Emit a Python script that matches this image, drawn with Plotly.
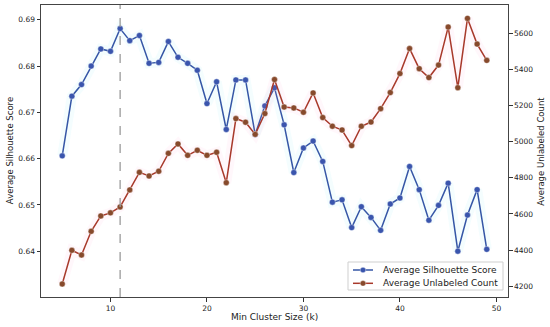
import plotly.graph_objects as go

k_values = list(range(5, 50))
silhouette = [0.6606, 0.6735, 0.6760, 0.6800, 0.6837, 0.6832, 0.6881, 0.6855, 0.6866, 0.6806,
              0.6808, 0.6853, 0.6819, 0.6806, 0.6791, 0.6719, 0.6766, 0.6663, 0.6770, 0.6770,
              0.6652, 0.6714, 0.6753, 0.6673, 0.6570, 0.6623, 0.6638, 0.6594, 0.6506, 0.6511,
              0.6451, 0.6496, 0.6473, 0.6445, 0.6502, 0.6515, 0.6583, 0.6533, 0.6467, 0.6499,
              0.6547, 0.6400, 0.6478, 0.6533, 0.6404]
unlabeled = [4213, 4399, 4373, 4504, 4589, 4606, 4639, 4733, 4830, 4810,
             4836, 4935, 4987, 4924, 4952, 4924, 4941, 4773, 5127, 5107,
             5040, 5155, 5343, 5191, 5186, 5162, 5269, 5133, 5085, 5064,
             4978, 5085, 5108, 5182, 5271, 5376, 5514, 5403, 5354, 5423,
             5633, 5298, 5681, 5539, 5449]
best_k = 11
series_names = ["Average Silhouette Score", "Average Unlabeled Count"]

x_ticks = [10, 20, 30, 40, 50]
y1_ticks = [0.64, 0.65, 0.66, 0.67, 0.68, 0.69]
y2_ticks = [4200, 4400, 4600, 4800, 5000, 5200, 5400, 5600]

BLUE = "#3556a6"
BLUE_M = "#3a55ad"
RED = "#a8392b"
BROWN = "#874a2c"
FONT = "DejaVu Sans"

fig = go.Figure()

# faint glow beneath the lines
fig.add_trace(go.Scatter(x=k_values, y=silhouette, mode="lines", yaxis="y",
                         line=dict(color="rgba(120,235,245,0.08)", width=10),
                         showlegend=False, hoverinfo="skip"))
fig.add_trace(go.Scatter(x=k_values, y=unlabeled, mode="lines", yaxis="y2",
                         line=dict(color="rgba(255,150,200,0.08)", width=10),
                         showlegend=False, hoverinfo="skip"))

fig.add_trace(go.Scatter(x=k_values, y=silhouette, mode="lines+markers", yaxis="y",
                         name=series_names[0], showlegend=False,
                         line=dict(color=BLUE, width=1.5),
                         marker=dict(color=BLUE_M, size=6, line=dict(color="white", width=0.4))))
fig.add_trace(go.Scatter(x=k_values, y=unlabeled, mode="lines+markers", yaxis="y2",
                         name=series_names[1], showlegend=False,
                         line=dict(color=RED, width=1.5),
                         marker=dict(color=BROWN, size=6, line=dict(color="white", width=0.4))))

fig.add_shape(type="line", x0=best_k, x1=best_k, xref="x", y0=0, y1=1, yref="paper",
              line=dict(color="#9a9a9a", width=1.3, dash="dash"))

# compact legend box (matplotlib style)
W, H, L, B = 467.0, 292.0, 41.0, 297.0
def px(x):
    return (x - L) / W
def py(y):
    return (B - y) / H

fig.add_shape(type="rect", xref="paper", yref="paper",
              x0=px(348), x1=px(503), y0=py(290), y1=py(262),
              line=dict(color="#cfcfcf", width=1), fillcolor="rgba(255,255,255,0.85)",
              layer="above")
legend_rows = [(270.0, BLUE, BLUE_M), (283.3, RED, BROWN)]
annotations = []
for (row_y, lc, mc), name in zip(legend_rows, series_names):
    fig.add_shape(type="line", xref="paper", yref="paper",
                  x0=px(353), x1=px(373), y0=py(row_y), y1=py(row_y),
                  line=dict(color=lc, width=1.5), layer="above")
    fig.add_shape(type="circle", xref="paper", yref="paper",
                  x0=px(363 - 2.8), x1=px(363 + 2.8), y0=py(row_y + 2.8), y1=py(row_y - 2.8),
                  line=dict(color="white", width=0.4), fillcolor=mc, layer="above")
    annotations.append(dict(text=name, x=px(381), y=py(row_y), xref="paper", yref="paper",
                            xanchor="left", yanchor="middle", showarrow=False,
                            font=dict(family=FONT, size=9, color="#222")))

axis_common = dict(showgrid=False, zeroline=False, ticks="outside", ticklen=3.5,
                   tickwidth=0.8, tickcolor="#333", linecolor="#444", linewidth=1,
                   tickfont=dict(family=FONT, size=7.5, color="#222"))

annotations += [
    dict(text="Min Cluster Size (k)", x=0.5, y=-0.068, xref="paper", yref="paper",
         xanchor="center", yanchor="middle", showarrow=False,
         font=dict(family=FONT, size=9, color="#222")),
    dict(text="Average Silhouette Score", x=-0.066, y=0.5, xref="paper", yref="paper",
         xanchor="center", yanchor="middle", showarrow=False, textangle=-90,
         font=dict(family=FONT, size=8.5, color="#222")),
    dict(text="Average Unlabeled Count", x=1.07, y=0.5, xref="paper", yref="paper",
         xanchor="center", yanchor="middle", showarrow=False, textangle=-90,
         font=dict(family=FONT, size=8.5, color="#222")),
]

fig.update_layout(
    width=550, height=327,
    margin=dict(l=41, r=42, t=5, b=30),
    paper_bgcolor="white", plot_bgcolor="white",
    font=dict(family=FONT, color="#222"),
    showlegend=False,
    xaxis=dict(range=[2.8, 51.2], tickvals=x_ticks, showline=True, mirror=True, **axis_common),
    yaxis=dict(range=[0.6301, 0.6932], tickvals=y1_ticks, tickformat=".2f",
               showline=True, **axis_common),
    yaxis2=dict(range=[4141, 5755], tickvals=y2_ticks, overlaying="y", side="right",
                showline=True, **axis_common),
    annotations=annotations,
)

fig.write_html("out.html", config={"displayModeBar": False},
               post_script="document.body.style.margin='0';")
